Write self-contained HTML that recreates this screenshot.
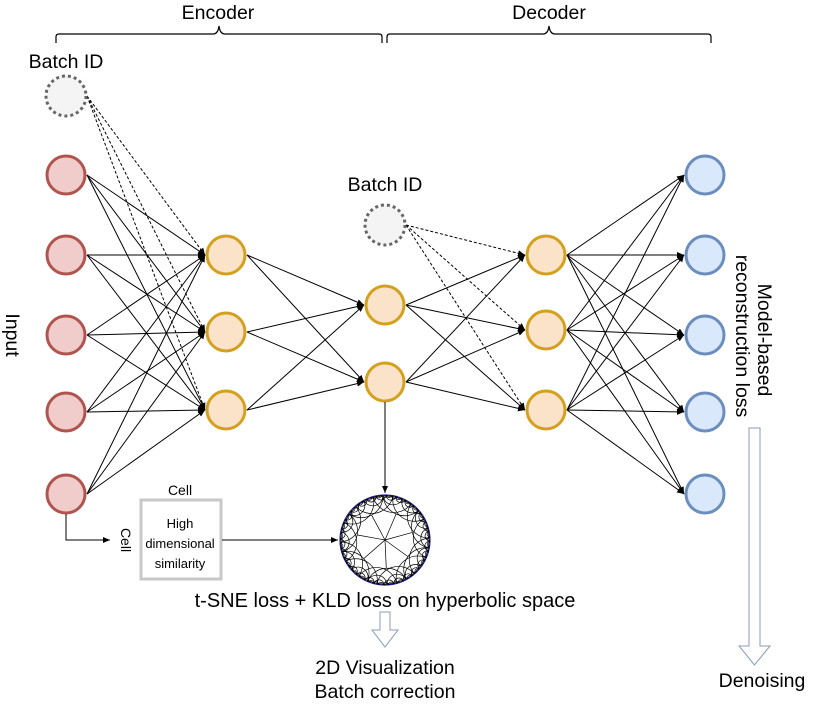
<!DOCTYPE html>
<html><head><meta charset="utf-8"><style>
html,body{margin:0;padding:0;background:#fff}
svg{display:block;font-family:"Liberation Sans",Arial,sans-serif}
</style></head><body>
<svg id="s" width="821" height="706" viewBox="0 0 821 706" xmlns="http://www.w3.org/2000/svg">
<defs>
<marker id="a" markerWidth="8" markerHeight="8" refX="7" refY="4" orient="auto" markerUnits="userSpaceOnUse"><path d="M0,1 L7,4 L0,7 z" fill="#000"/></marker>
<clipPath id="dc"><circle cx="385" cy="540" r="45"/></clipPath>
</defs>
<path d="M56,43 v-6 q0,-3 3,-3 h154 q5,0 6,-8 q1,8 6,8 h154 q3,0 3,3 v6" fill="none" stroke="#000" stroke-width="1.2"/>
<path d="M387,43 v-6 q0,-3 3,-3 h153 q5,0 6,-8 q1,8 6,8 h153 q3,0 3,3 v6" fill="none" stroke="#000" stroke-width="1.2"/>
<text x="218" y="19" font-size="19.5" text-anchor="middle">Encoder</text>
<text x="549" y="19" font-size="19.5" text-anchor="middle">Decoder</text>
<text x="66" y="68" font-size="19.5" text-anchor="middle">Batch ID</text>
<text x="385" y="191" font-size="19.5" text-anchor="middle">Batch ID</text>
<g id="edges" stroke="#000" stroke-width="1" fill="none"></g>
<g id="nodes"></g>
<text transform="translate(6,335) rotate(90)" font-size="19.5" text-anchor="middle">Input</text>
<text transform="translate(758,340) rotate(90)" font-size="19.5" text-anchor="middle">Model-based</text>
<text transform="translate(736,336) rotate(90)" font-size="19.5" text-anchor="middle">reconstruction loss</text>
<rect x="141" y="500" width="80" height="79" fill="#fff" stroke="#c8c8c8" stroke-width="3"/>
<text x="180" y="495" font-size="14" text-anchor="middle">Cell</text>
<text x="180" y="528" font-size="13" text-anchor="middle">High</text>
<text x="180" y="548" font-size="13" text-anchor="middle">dimensional</text>
<text x="180" y="568" font-size="13" text-anchor="middle">similarity</text>
<text transform="translate(121,540) rotate(90)" font-size="14" text-anchor="middle">Cell</text>
<path d="M66,514 V540 H110" fill="none" stroke="#000" stroke-width="1" marker-end="url(#a)"/>
<path d="M222,540 H338" fill="none" stroke="#000" stroke-width="1" marker-end="url(#a)"/>
<path d="M385,402 V493" fill="none" stroke="#000" stroke-width="1" marker-end="url(#a)"/>
<circle cx="385" cy="540" r="45" fill="#fff" stroke="#1a1aa0" stroke-width="1.2"/>
<g id="tile" clip-path="url(#dc)" fill="none" stroke="#000" stroke-width="0.7"></g>
<text x="385" y="607" font-size="20" text-anchor="middle">t-SNE loss + KLD loss on hyperbolic space</text>
<path d="M380,612 h10 v18 h8 l-13,17 l-13,-17 h8 z" fill="#fff" stroke="#8899bb" stroke-width="1"/>
<text x="385" y="674" font-size="19.5" text-anchor="middle">2D Visualization</text>
<text x="385" y="698" font-size="19.5" text-anchor="middle">Batch correction</text>
<path d="M749,428 h11 v218 h10 l-15.5,19 l-15.5,-19 h10 z" fill="#fff" stroke="#8899bb" stroke-width="1"/>
<text x="762" y="687" font-size="19.5" text-anchor="middle">Denoising</text>
</svg>
<script>
var NS="http://www.w3.org/2000/svg";
function el(p,t,a){var e=document.createElementNS(NS,t);for(var k in a)e.setAttribute(k,a[k]);p.appendChild(e);return e;}
var E=document.getElementById('edges'),N=document.getElementById('nodes');
var inp=[175,255,335,412,494].map(function(y){return[66,y]});
var enc=[255,332,410].map(function(y){return[226,y]});
var lat=[305,382].map(function(y){return[385,y]});
var dec=[255,330,410].map(function(y){return[546,y]});
var out=[175,255,335,412,494].map(function(y){return[705,y]});
var R=21;
function conn(A,B,dash){A.forEach(function(a){B.forEach(function(b){
 var o={x1:a[0]+R,y1:a[1],x2:b[0]-R,y2:b[1],'marker-end':'url(#a)'};
 if(dash)o['stroke-dasharray']='3,2';
 el(E,'line',o);});});}
conn(inp,enc);conn(enc,lat);conn(lat,dec);conn(dec,out);
conn([[66,96]],enc,1);conn([[385,225]],dec,1);
function nodes(L,f,s){L.forEach(function(p){el(N,'circle',{cx:p[0],cy:p[1],r:19,fill:f,stroke:s,'stroke-width':3});});}
nodes(inp,'#f0cccb','#b05450');nodes(enc,'#fae3c8','#d4a020');nodes(lat,'#fae3c8','#d4a020');
nodes(dec,'#fae3c8','#d4a020');nodes(out,'#dae8fc','#6c8ebf');
el(N,'circle',{cx:66,cy:96,r:20,fill:'#f4f4f4',stroke:'#666','stroke-width':3,'stroke-dasharray':'3,3'});
el(N,'circle',{cx:385,cy:225,r:20,fill:'#f4f4f4',stroke:'#666','stroke-width':3,'stroke-dasharray':'3,3'});
var T=document.getElementById('tile'),cx=385,cy=540,rr=45;
function geo(t1,t2){var d=t2-t1,r=Math.tan(d/2)*rr;
 var x1=cx+rr*Math.cos(t1),y1=cy+rr*Math.sin(t1),x2=cx+rr*Math.cos(t2),y2=cy+rr*Math.sin(t2);
 el(T,'path',{d:'M'+x1+','+y1+' A'+r+','+r+' 0 0 0 '+x2+','+y2});}
var lv=[[7,1,0.2],[14,1,0.4],[14,2,0.9],[28,1,0.1],[56,1,0.3],[112,1,0.1]];
lv.forEach(function(v){var n=v[0],k=v[1],o=v[2];for(var i=0;i<n;i++){var t=(i+o)*2*Math.PI/n;geo(t,t+k*2*Math.PI/n);}});
for(var i=0;i<7;i++){var t=(i+0.7)*2*Math.PI/7;el(T,'line',{x1:cx,y1:cy,x2:cx+rr*0.62*Math.cos(t),y2:cy+rr*0.62*Math.sin(t)});}
</script>
</body></html>
